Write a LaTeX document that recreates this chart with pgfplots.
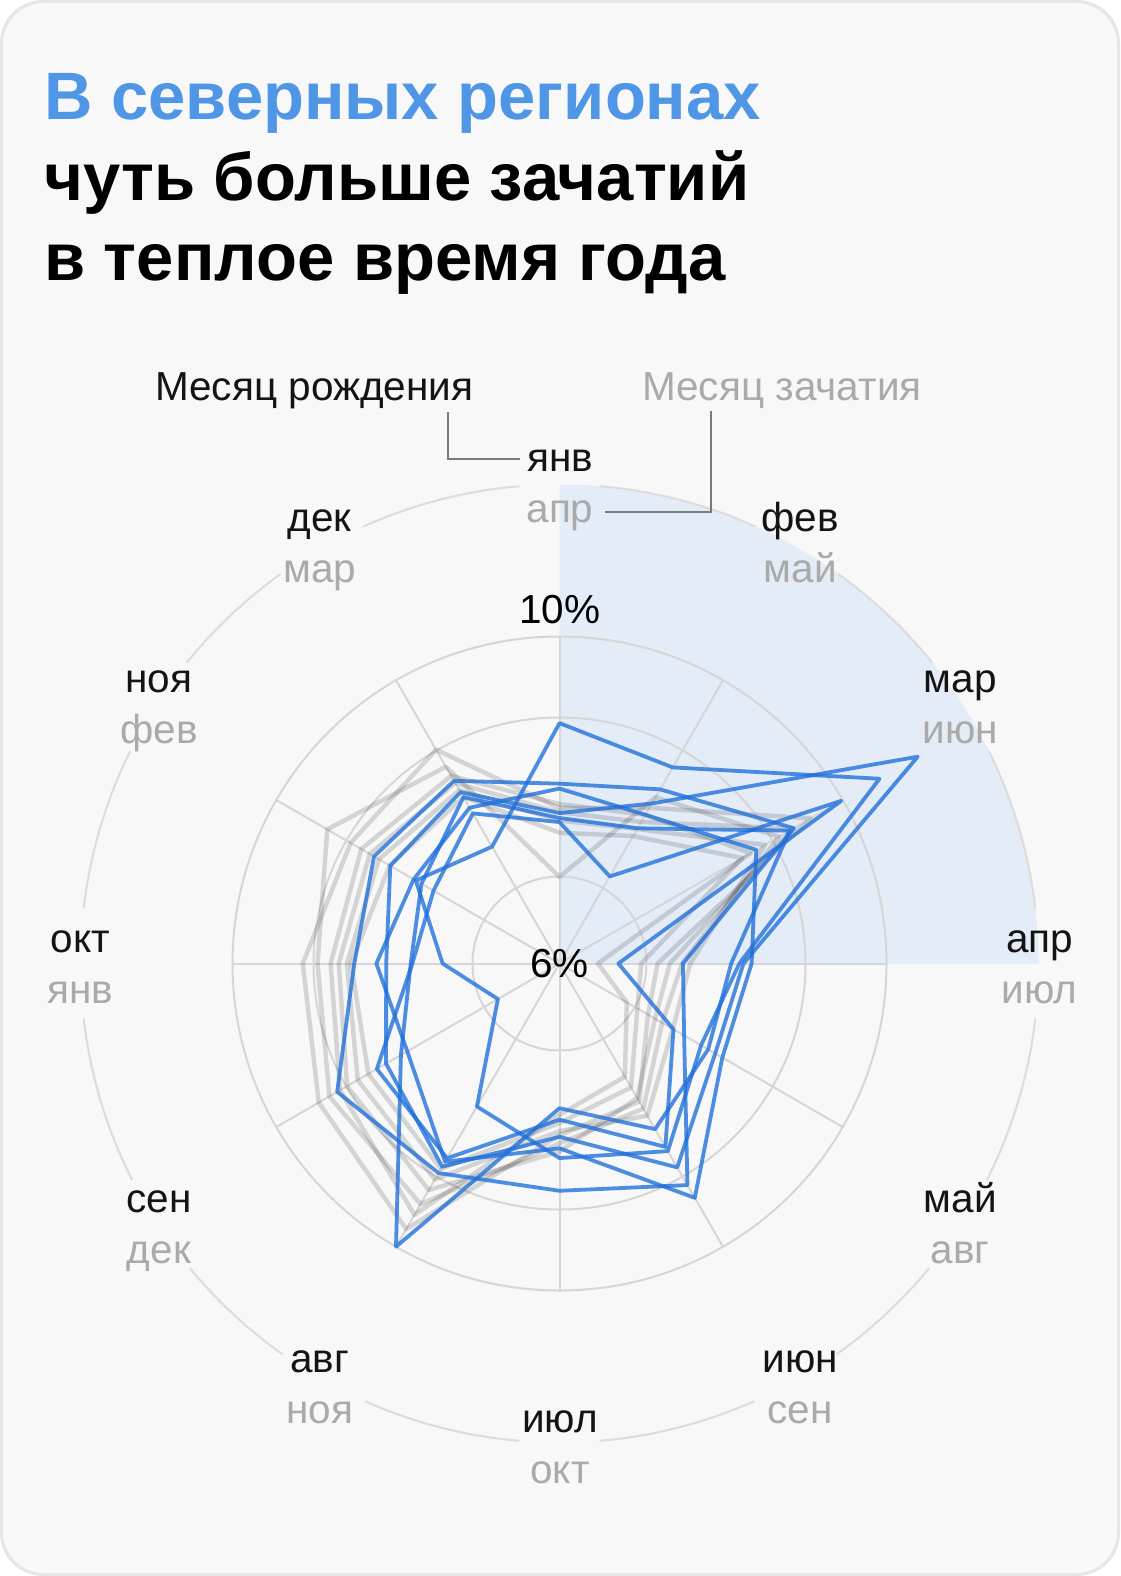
\documentclass[border=0pt]{standalone}
\usepackage{fontspec}
\setmainfont{Liberation Sans}
\usepackage{pgfplots}
\pgfplotsset{compat=1.18}
\usepackage{pgfplotstable}
\definecolor{bg}{HTML}{F8F8F8}
\definecolor{framec}{HTML}{E6E6E6}
\definecolor{sector}{HTML}{E4ECF7}
\definecolor{gridc}{HTML}{D6D6D6}
\definecolor{outerc}{HTML}{DCDCDC}
\definecolor{titleblue}{HTML}{4F96E6}
\definecolor{lblgrey}{HTML}{AAAAAA}
\definecolor{lineblue}{HTML}{1E6FDB}
\definecolor{leader}{HTML}{7A7A7A}

% month angle; blue = northern regions (A..G), grey = other regions (H1..H6); values in %
\pgfplotstableread{
ang A B C E F G H1 H2 H3 H4 H5 H6
90 8.94 7.84 7.73 8.20 7.78 8.14 7.90 7.06 7.95 7.85 7.75 7.60
60 8.77 8.26 7.23 8.46 7.91 8.10 8.20 8.35 8.10 8.00 7.90 7.80
30 10.52 11.06 9.98 9.31 9.25 8.78 9.55 9.10 8.70 9.30 8.90 8.58
0 8.20 8.25 6.72 7.51 8.10 8.35 7.20 7.50 6.47 7.35 7.60 7.00
-30 8.00 8.20 7.61 7.76 8.10 8.30 7.25 7.45 6.95 7.35 7.60 7.10
-60 8.65 8.88 8.59 9.13 8.34 9.31 7.95 8.05 7.60 7.90 8.15 7.75
-90 8.38 8.12 7.91 8.78 7.77 8.26 8.10 8.20 7.85 8.30 8.05 7.95
-120 8.02 8.87 8.75 8.96 10.00 8.80 9.75 9.40 9.55 9.20 9.05 8.90
-150 6.87 8.45 8.58 9.14 8.24 8.15 9.40 9.25 9.10 9.00 8.85 8.70
180 7.43 8.12 7.80 8.51 7.82 8.24 9.14 8.96 8.80 8.70 8.60 8.55
150 8.03 8.39 7.78 8.62 7.95 8.06 8.95 9.28 8.80 8.68 8.55 8.40
120 7.65 8.42 8.12 8.58 8.35 8.20 9.02 8.78 8.65 8.55 8.45 8.35
90 8.94 7.84 7.73 8.20 7.78 8.14 7.90 7.06 7.95 7.85 7.75 7.60
}\data

\newcommand{\series}[2]{\addplot[#1] table[x expr={(\thisrow{#2}-6)*cos(\thisrow{ang})}, y expr={(\thisrow{#2}-6)*sin(\thisrow{ang})}] {\data};}
\newcommand{\mlabel}[4]{%
  \node[anchor=base, inner sep=0pt, text=black!92] at (#1,-#2+14) {#3};
  \node[anchor=base, inner sep=0pt, text=lblgrey] at (#1,-#2-37) {#4};}

\begin{document}
\begin{tikzpicture}[x=1pt,y=1pt, every node/.style={font=\fontsize{40.5}{48}\selectfont}]
\fill[white] (0,0) rectangle (1120,-1576);
\draw[fill=bg, draw=framec, line width=3pt, rounded corners=42pt] (1.5,-1.5) rectangle (1118.5,-1574.5);
\coordinate (C) at (559.5,-963.5);
% highlighted sector
\fill[sector] (C) -- ++(0:479pt) arc[start angle=0, end angle=90, radius=479pt] -- cycle;
% grid
\draw[gridc, line width=2pt] (C) circle[radius=87pt];
\draw[gridc, line width=2pt] (C) circle[radius=246pt];
\draw[gridc, line width=2pt] (C) circle[radius=327pt];
\foreach \a in {0,30,...,330} \draw[gridc, line width=2pt] (C) -- ++(\a:327pt);
% outer label ring
\foreach \s/\e in {6.6/26.3, 38.9/54.4, 65.8/85.2, 94.8/114.2, 125.6/141.1, 153.7/173.4, 186.6/206.9, 219.5/234.65, 246.05/265.2, 274.8/293.95, 305.35/320.5, 333.1/353.4}
  \draw[outerc, line width=2pt] (C) ++(\s:479pt) arc[start angle=\s, end angle=\e, radius=479pt];
% title
\node[anchor=base west, inner sep=0pt, font=\fontsize{67}{80}\selectfont\bfseries, text=titleblue] at (44,-120) {В северных регионах};
\node[anchor=base west, inner sep=0pt, font=\fontsize{67}{80}\selectfont\bfseries, text=black] at (44,-200) {чуть больше зачатий};
\node[anchor=base west, inner sep=0pt, font=\fontsize{67}{80}\selectfont\bfseries, text=black] at (44,-280) {в теплое время года};
% legend headers
\node[anchor=base west, inner sep=0pt, text=black!92] at (155,-400) {Месяц рождения};
\node[anchor=base west, inner sep=0pt, text=lblgrey] at (642,-400) {Месяц зачатия};
\draw[leader, line width=2pt] (447.8,-411.7) -- (447.8,-459.3) -- (519.5,-459.3);
\draw[leader, line width=2pt] (605,-511.7) -- (711,-511.7) -- (711,-410.7);
% month labels
\mlabel{560}{485}{янв}{апр}
\mlabel{800.3}{545.4}{фев}{май}
\mlabel{960.2}{706.8}{мар}{июн}
\mlabel{1039.6}{966.6}{апр}{июл}
\mlabel{960.2}{1226}{май}{авг}
\mlabel{800.3}{1386.5}{июн}{сен}
\mlabel{560}{1446.8}{июл}{окт}
\mlabel{319.7}{1386.5}{авг}{ноя}
\mlabel{158.9}{1226}{сен}{дек}
\mlabel{80.4}{966.6}{окт}{янв}
\mlabel{158.9}{706.8}{ноя}{фев}
\mlabel{319.7}{545.4}{дек}{мар}
\node[anchor=base, inner sep=0pt] at (560,-623.3) {10\%};
\node[inner sep=0pt] at (C) {6\%};
% data
\begin{axis}[at={(C)}, anchor=origin, x=81.75pt, y=81.75pt,
  xmin=-6, xmax=6, ymin=-6, ymax=6, hide axis, clip=false,
  greyline/.style={draw=black, draw opacity=0.14, line width=4.5pt, line join=round, line cap=round, mark=none},
  blueline/.style={draw=lineblue, draw opacity=0.78, line width=3.8pt, line join=round, line cap=round, mark=none}]
\series{greyline}{H1}
\series{greyline}{H2}
\series{greyline}{H3}
\series{greyline}{H4}
\series{greyline}{H5}
\series{greyline}{H6}
\series{blueline}{A}
\series{blueline}{B}
\series{blueline}{C}
\series{blueline}{E}
\series{blueline}{F}
\series{blueline}{G}
\end{axis}
\end{tikzpicture}
\end{document}
